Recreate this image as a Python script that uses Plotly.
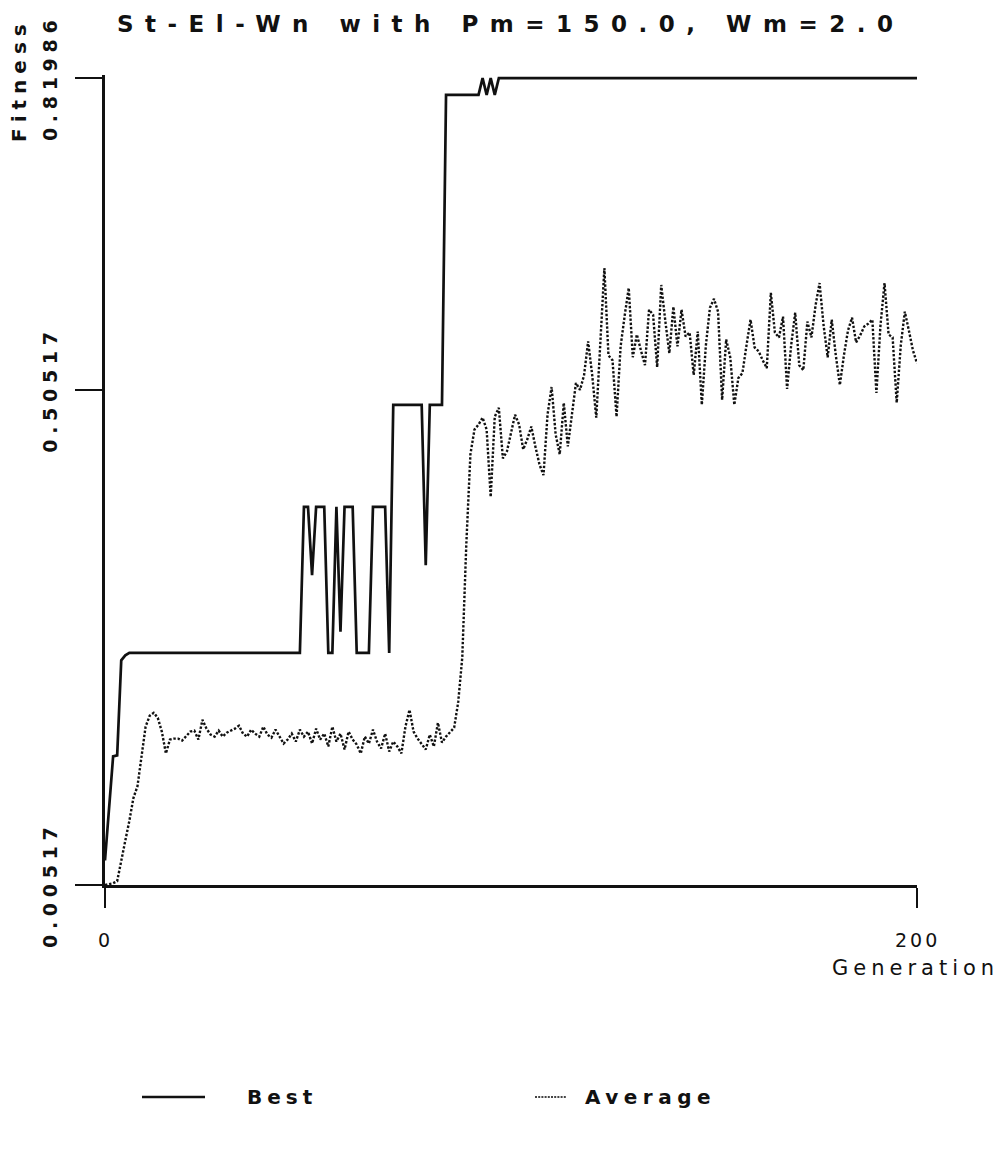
import plotly.graph_objects as go

# ---- data -------------------------------------------------------------
generations = list(range(201))

average_fitness = [
    0.00517, 0.006, 0.007, 0.009, 0.028, 0.050, 0.070, 0.093, 0.105, 0.138,
    0.165, 0.176, 0.179, 0.174, 0.160, 0.138, 0.152, 0.153, 0.153, 0.151,
    0.156, 0.160, 0.161, 0.152, 0.172, 0.163, 0.157, 0.155, 0.161, 0.155,
    0.159, 0.161, 0.163, 0.166, 0.158, 0.155, 0.162, 0.158, 0.155, 0.165,
    0.157, 0.154, 0.162, 0.155, 0.148, 0.152, 0.158, 0.150, 0.162, 0.155,
    0.160, 0.148, 0.163, 0.152, 0.158, 0.145, 0.165, 0.150, 0.158, 0.142,
    0.160, 0.152, 0.147, 0.138, 0.155, 0.148, 0.162, 0.150, 0.143, 0.158,
    0.140, 0.150, 0.145, 0.138, 0.165, 0.182, 0.160, 0.153, 0.148, 0.142,
    0.157, 0.145, 0.169, 0.149, 0.155, 0.160, 0.164, 0.190, 0.235, 0.350,
    0.440, 0.465, 0.470, 0.477, 0.465, 0.397, 0.478, 0.487, 0.436, 0.443,
    0.460, 0.480, 0.470, 0.445, 0.455, 0.468, 0.448, 0.430, 0.419, 0.480,
    0.508, 0.460, 0.440, 0.492, 0.448, 0.480, 0.512, 0.505, 0.520, 0.554,
    0.520, 0.477, 0.560, 0.628, 0.540, 0.535, 0.478, 0.549, 0.580, 0.608,
    0.538, 0.561, 0.545, 0.530, 0.586, 0.581, 0.528, 0.611, 0.575, 0.542,
    0.589, 0.549, 0.586, 0.559, 0.563, 0.520, 0.564, 0.490, 0.550, 0.588,
    0.597, 0.584, 0.495, 0.556, 0.538, 0.490, 0.517, 0.522, 0.550, 0.576,
    0.548, 0.544, 0.535, 0.527, 0.603, 0.563, 0.558, 0.579, 0.506, 0.550,
    0.583, 0.530, 0.525, 0.574, 0.558, 0.590, 0.613, 0.570, 0.538, 0.576,
    0.540, 0.510, 0.540, 0.565, 0.578, 0.553, 0.560, 0.569, 0.572, 0.576,
    0.502, 0.570, 0.613, 0.561, 0.558, 0.492, 0.550, 0.584, 0.565, 0.545,
    0.532,
]

# best-of-generation fitness, listed at the generations where it changes
best_generations = [
    0, 1, 2, 3, 4, 5, 6, 48, 49, 50, 51, 52, 54, 55, 56, 57, 58, 59, 61,
    62, 65, 66, 69, 70, 71, 78, 79, 80, 83, 84, 92, 93, 94, 95, 96, 97, 200,
]
best_fitness = [
    0.030, 0.080, 0.135, 0.136, 0.232, 0.237, 0.2395, 0.2395, 0.387, 0.387,
    0.318, 0.387, 0.387, 0.2395, 0.2395, 0.387, 0.261, 0.387, 0.387,
    0.2395, 0.2395, 0.387, 0.387, 0.2395, 0.490, 0.490, 0.328, 0.490, 0.490,
    0.803, 0.803, 0.81986, 0.803, 0.81986, 0.803, 0.81986, 0.81986,
]

y_tick_values = [0.00517, 0.50517, 0.81986]
y_tick_labels = ["0.00517", "0.50517", "0.81986"]
x_tick_values = [0, 200]
x_tick_labels = ["0", "200"]

title_text = "St-El-Wn with Pm=150.0, Wm=2.0"
x_title = "Generation"
y_title = "Fitness"
series_names = ["Best", "Average"]

# ---- page geometry ----------------------------------------------------
W, H = 1003, 1174
Y_LO, Y_HI = 0.00517, 0.82300          # a little headroom so the top line is not clipped
ML, MR, MB = 105, 86, 289
MT = 75
PW, PH = W - ML - MR, H - MT - MB
INK = "#111111"
FONT = "DejaVu Sans"


def px_x(px):
    return (px - ML) / PW


def px_y(py):
    return (H - MB - py) / PH


def spaced(text, gap, bold=False):
    weight = "font-weight:bold;" if bold else ""
    return f'<span style="{weight}letter-spacing:{gap}px">{text}</span>'


fig = go.Figure()

fig.add_trace(go.Scatter(
    x=best_generations, y=best_fitness, mode="lines", name=series_names[0],
    line=dict(color=INK, width=2.7), showlegend=False,
))
fig.add_trace(go.Scatter(
    x=generations, y=average_fitness, mode="lines", name=series_names[1],
    line=dict(color=INK, width=2.4, dash="2.4px,1.8px"), showlegend=False,
))

annotations = []

# title
annotations.append(dict(
    text=spaced(title_text, 11.5, True), xref="paper", yref="paper",
    x=px_x(510), y=px_y(24), xanchor="center", yanchor="middle",
    showarrow=False, font=dict(family=FONT, size=23, color=INK),
))
# y axis title
annotations.append(dict(
    text=spaced(y_title, 6, True), xref="paper", yref="paper",
    x=px_x(19), y=px_y(80), xanchor="center", yanchor="middle",
    textangle=-90, showarrow=False, font=dict(family=FONT, size=20, color=INK),
))
# y tick labels (rotated), centred on their ticks
for val, lab in zip(y_tick_values, y_tick_labels):
    annotations.append(dict(
        text=spaced(lab, 5.7, True), xref="paper", yref="y",
        x=px_x(50), y=val, xanchor="center", yanchor="middle",
        textangle=-90, showarrow=False,
        font=dict(family=FONT, size=19, color=INK),
    ))
# x tick labels
for val, lab in zip(x_tick_values, x_tick_labels):
    annotations.append(dict(
        text=spaced(lab, 3), xref="x", yref="paper", x=val, y=px_y(940),
        xanchor="center", yanchor="middle", showarrow=False,
        font=dict(family=FONT, size=19, color=INK),
    ))
# x axis title
annotations.append(dict(
    text=spaced(x_title, 5), xref="paper", yref="paper",
    x=px_x(1001), y=px_y(968), xanchor="right", yanchor="middle",
    showarrow=False, font=dict(family=FONT, size=21, color=INK),
))

# legend
shapes = [
    dict(type="line", xref="paper", yref="paper",
         x0=px_x(142), x1=px_x(205), y0=px_y(1097), y1=px_y(1097),
         line=dict(color=INK, width=2.7)),
    dict(type="line", xref="paper", yref="paper",
         x0=px_x(535), x1=px_x(566), y0=px_y(1097), y1=px_y(1097),
         line=dict(color="#444444", width=1.8, dash="2px,1.2px")),
]
annotations.append(dict(
    text=spaced(series_names[0], 5, True), xref="paper", yref="paper",
    x=px_x(245), y=px_y(1097), xanchor="left", yanchor="middle",
    showarrow=False, font=dict(family=FONT, size=20, color=INK),
))
annotations.append(dict(
    text=spaced(series_names[1], 5.5, True), xref="paper", yref="paper",
    x=px_x(583), y=px_y(1097), xanchor="left", yanchor="middle",
    showarrow=False, font=dict(family=FONT, size=20, color=INK),
))

fig.update_layout(
    width=W, height=H,
    margin=dict(l=ML, r=MR, t=MT, b=MB, pad=0),
    paper_bgcolor="white", plot_bgcolor="white",
    showlegend=False,
    annotations=annotations, shapes=shapes,
    xaxis=dict(
        range=[0, 200], showgrid=False, zeroline=False,
        showline=True, linecolor=INK, linewidth=3,
        ticks="outside", ticklen=20, tickwidth=2, tickcolor=INK,
        tickvals=x_tick_values, showticklabels=False,
    ),
    yaxis=dict(
        range=[Y_LO, Y_HI],
        showgrid=False, zeroline=False,
        showline=True, linecolor=INK, linewidth=3,
        ticks="outside", ticklen=27, tickwidth=2, tickcolor=INK,
        tickvals=y_tick_values, showticklabels=False,
    ),
)

fig.write_html("out.html")
